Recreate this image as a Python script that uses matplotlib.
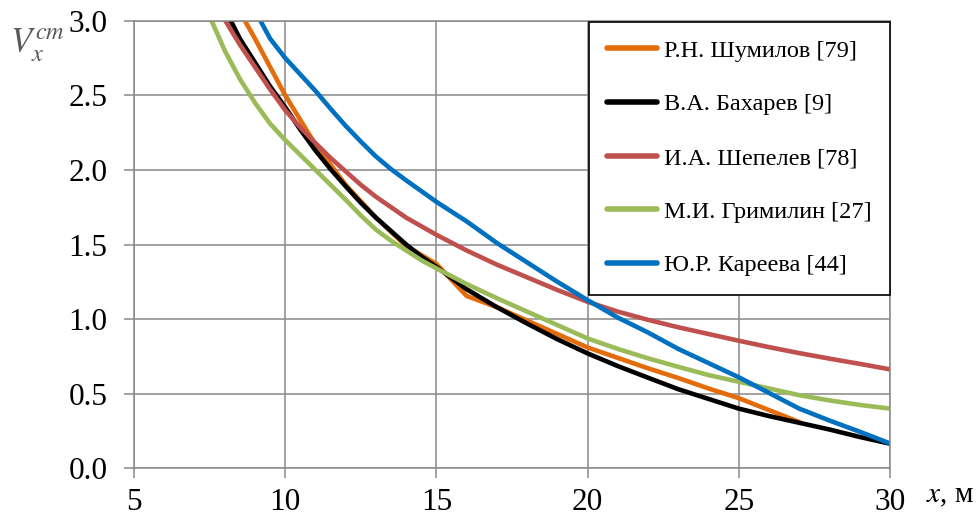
import matplotlib
matplotlib.use('Agg')
import matplotlib.pyplot as plt

plt.rcParams['font.family'] = ['Liberation Serif', 'DejaVu Serif']
plt.rcParams['mathtext.fontset'] = 'stix'

# Р.Н. Шумилов [79]
x_shum = [8.5, 9, 10, 11, 12, 13, 14, 15, 16, 17, 18, 19, 20, 21, 22, 23, 24, 25, 26, 27]
y_shum = [3.06, 2.88, 2.50, 2.17, 1.90, 1.68, 1.49, 1.37, 1.155, 1.08, 0.99, 0.90, 0.81,
          0.74, 0.67, 0.605, 0.535, 0.47, 0.39, 0.31]

# В.А. Бахарев [9]
x_bah = [8.1, 8.5, 9, 9.5, 10, 10.5, 11, 11.5, 12, 12.5, 13, 13.5, 14, 14.5, 15, 16, 17, 18,
         19, 20, 21, 22, 23, 24, 25, 26, 27, 28, 29, 30]
y_bah = [3.04, 2.88, 2.72, 2.56, 2.42, 2.27, 2.13, 2.005, 1.89, 1.78, 1.68, 1.59, 1.50, 1.42,
         1.35, 1.20, 1.08, 0.97, 0.865, 0.77, 0.685, 0.607, 0.53, 0.465, 0.40, 0.35, 0.305,
         0.26, 0.21, 0.165]

# И.А. Шепелев [78]
x_shep = [7.9, 8.5, 9, 9.5, 10, 10.5, 11, 11.5, 12, 12.5, 13, 13.5, 14, 15, 16, 17, 18, 19,
          20, 21, 22, 23, 24, 25, 26, 27, 28, 29, 30]
y_shep = [3.04, 2.84, 2.69, 2.54, 2.40, 2.285, 2.18, 2.08, 1.99, 1.90, 1.82, 1.75, 1.68,
          1.565, 1.46, 1.365, 1.28, 1.195, 1.116, 1.05, 0.995, 0.945, 0.90, 0.855, 0.812,
          0.772, 0.735, 0.70, 0.663]

# М.И. Гримилин [27]
x_grim = [7.5, 8, 8.5, 9, 9.5, 10, 10.5, 11, 11.5, 12, 12.5, 13, 13.5, 14, 14.5, 15, 16, 17,
          18, 19, 20, 21, 22, 23, 24, 25, 26, 27, 28, 29, 30]
y_grim = [3.03, 2.80, 2.61, 2.45, 2.31, 2.20, 2.10, 2.00, 1.90, 1.80, 1.695, 1.60, 1.525,
          1.46, 1.395, 1.34, 1.235, 1.14, 1.05, 0.96, 0.87, 0.80, 0.737, 0.68, 0.625, 0.58,
          0.535, 0.49, 0.455, 0.425, 0.40]

# Ю.Р. Кареева [44]
x_kar = [9.1, 9.5, 10, 10.5, 11, 11.5, 12, 12.5, 13, 13.5, 14, 15, 16, 17, 18, 19, 20, 21,
         22, 23, 24, 25, 26, 27, 28, 29, 30]
y_kar = [3.03, 2.88, 2.75, 2.64, 2.53, 2.41, 2.295, 2.19, 2.09, 2.005, 1.93, 1.786, 1.655,
         1.51, 1.38, 1.25, 1.127, 1.01, 0.91, 0.80, 0.705, 0.61, 0.505, 0.40, 0.32, 0.245,
         0.167]

series = [
    (x_shum, y_shum, 'Р.Н. Шумилов [79]', '#E46C0A'),
    (x_bah, y_bah, 'В.А. Бахарев [9]', '#000000'),
    (x_shep, y_shep, 'И.А. Шепелев [78]', '#C0504D'),
    (x_grim, y_grim, 'М.И. Гримилин [27]', '#9BBB59'),
    (x_kar, y_kar, 'Ю.Р. Кареева [44]', '#0070C0'),
]

grid_c = '#898989'

fig = plt.figure(figsize=(9.8, 5.2), dpi=100)
ax = fig.add_axes([134 / 980, 1 - 468.3 / 520, (890 - 134) / 980, (468.3 - 20.7) / 520])

for xs, ys, lab, c in series:
    ax.plot(xs, ys, color=c, lw=3.3, label=lab, solid_capstyle='round', solid_joinstyle='round')

ax.set_xlim(5, 30)
ax.set_ylim(0, 3)
ax.set_xticks([5, 10, 15, 20, 25, 30])
ax.set_yticks([0, 0.5, 1.0, 1.5, 2.0, 2.5, 3.0])
ax.set_yticklabels(['0.0', '0.5', '1.0', '1.5', '2.0', '2.5', '3.0'])
ax.grid(True, color=grid_c, lw=1.1)
ax.set_axisbelow(True)
for s in ax.spines.values():
    s.set_color(grid_c)
    s.set_linewidth(1.1)
ax.tick_params(direction='out', length=7, width=1.1, color=grid_c,
               labelsize=22.5, labelcolor='black')
ax.tick_params(axis='y', pad=12)
ax.tick_params(axis='x', pad=7)

leg = ax.legend(loc='upper right', bbox_to_anchor=(1.0, 0.998), borderaxespad=0,
                fontsize=17.5, handlelength=2.05, handletextpad=0.3, labelspacing=1.3,
                borderpad=0.75, fancybox=False, framealpha=1, edgecolor='black')
leg.get_frame().set_linewidth(1.2)
for h in leg.get_lines():
    h.set_linewidth(4)

fig.text(10 / 980, 1 - 52 / 520, r'$V_x^{cm}$', fontsize=25, color='#595959', va='baseline')
fig.text(926 / 980, 1 - 502 / 520, r'$x$, м', fontsize=21, va='baseline')

fig.savefig('out.png', dpi=100)
